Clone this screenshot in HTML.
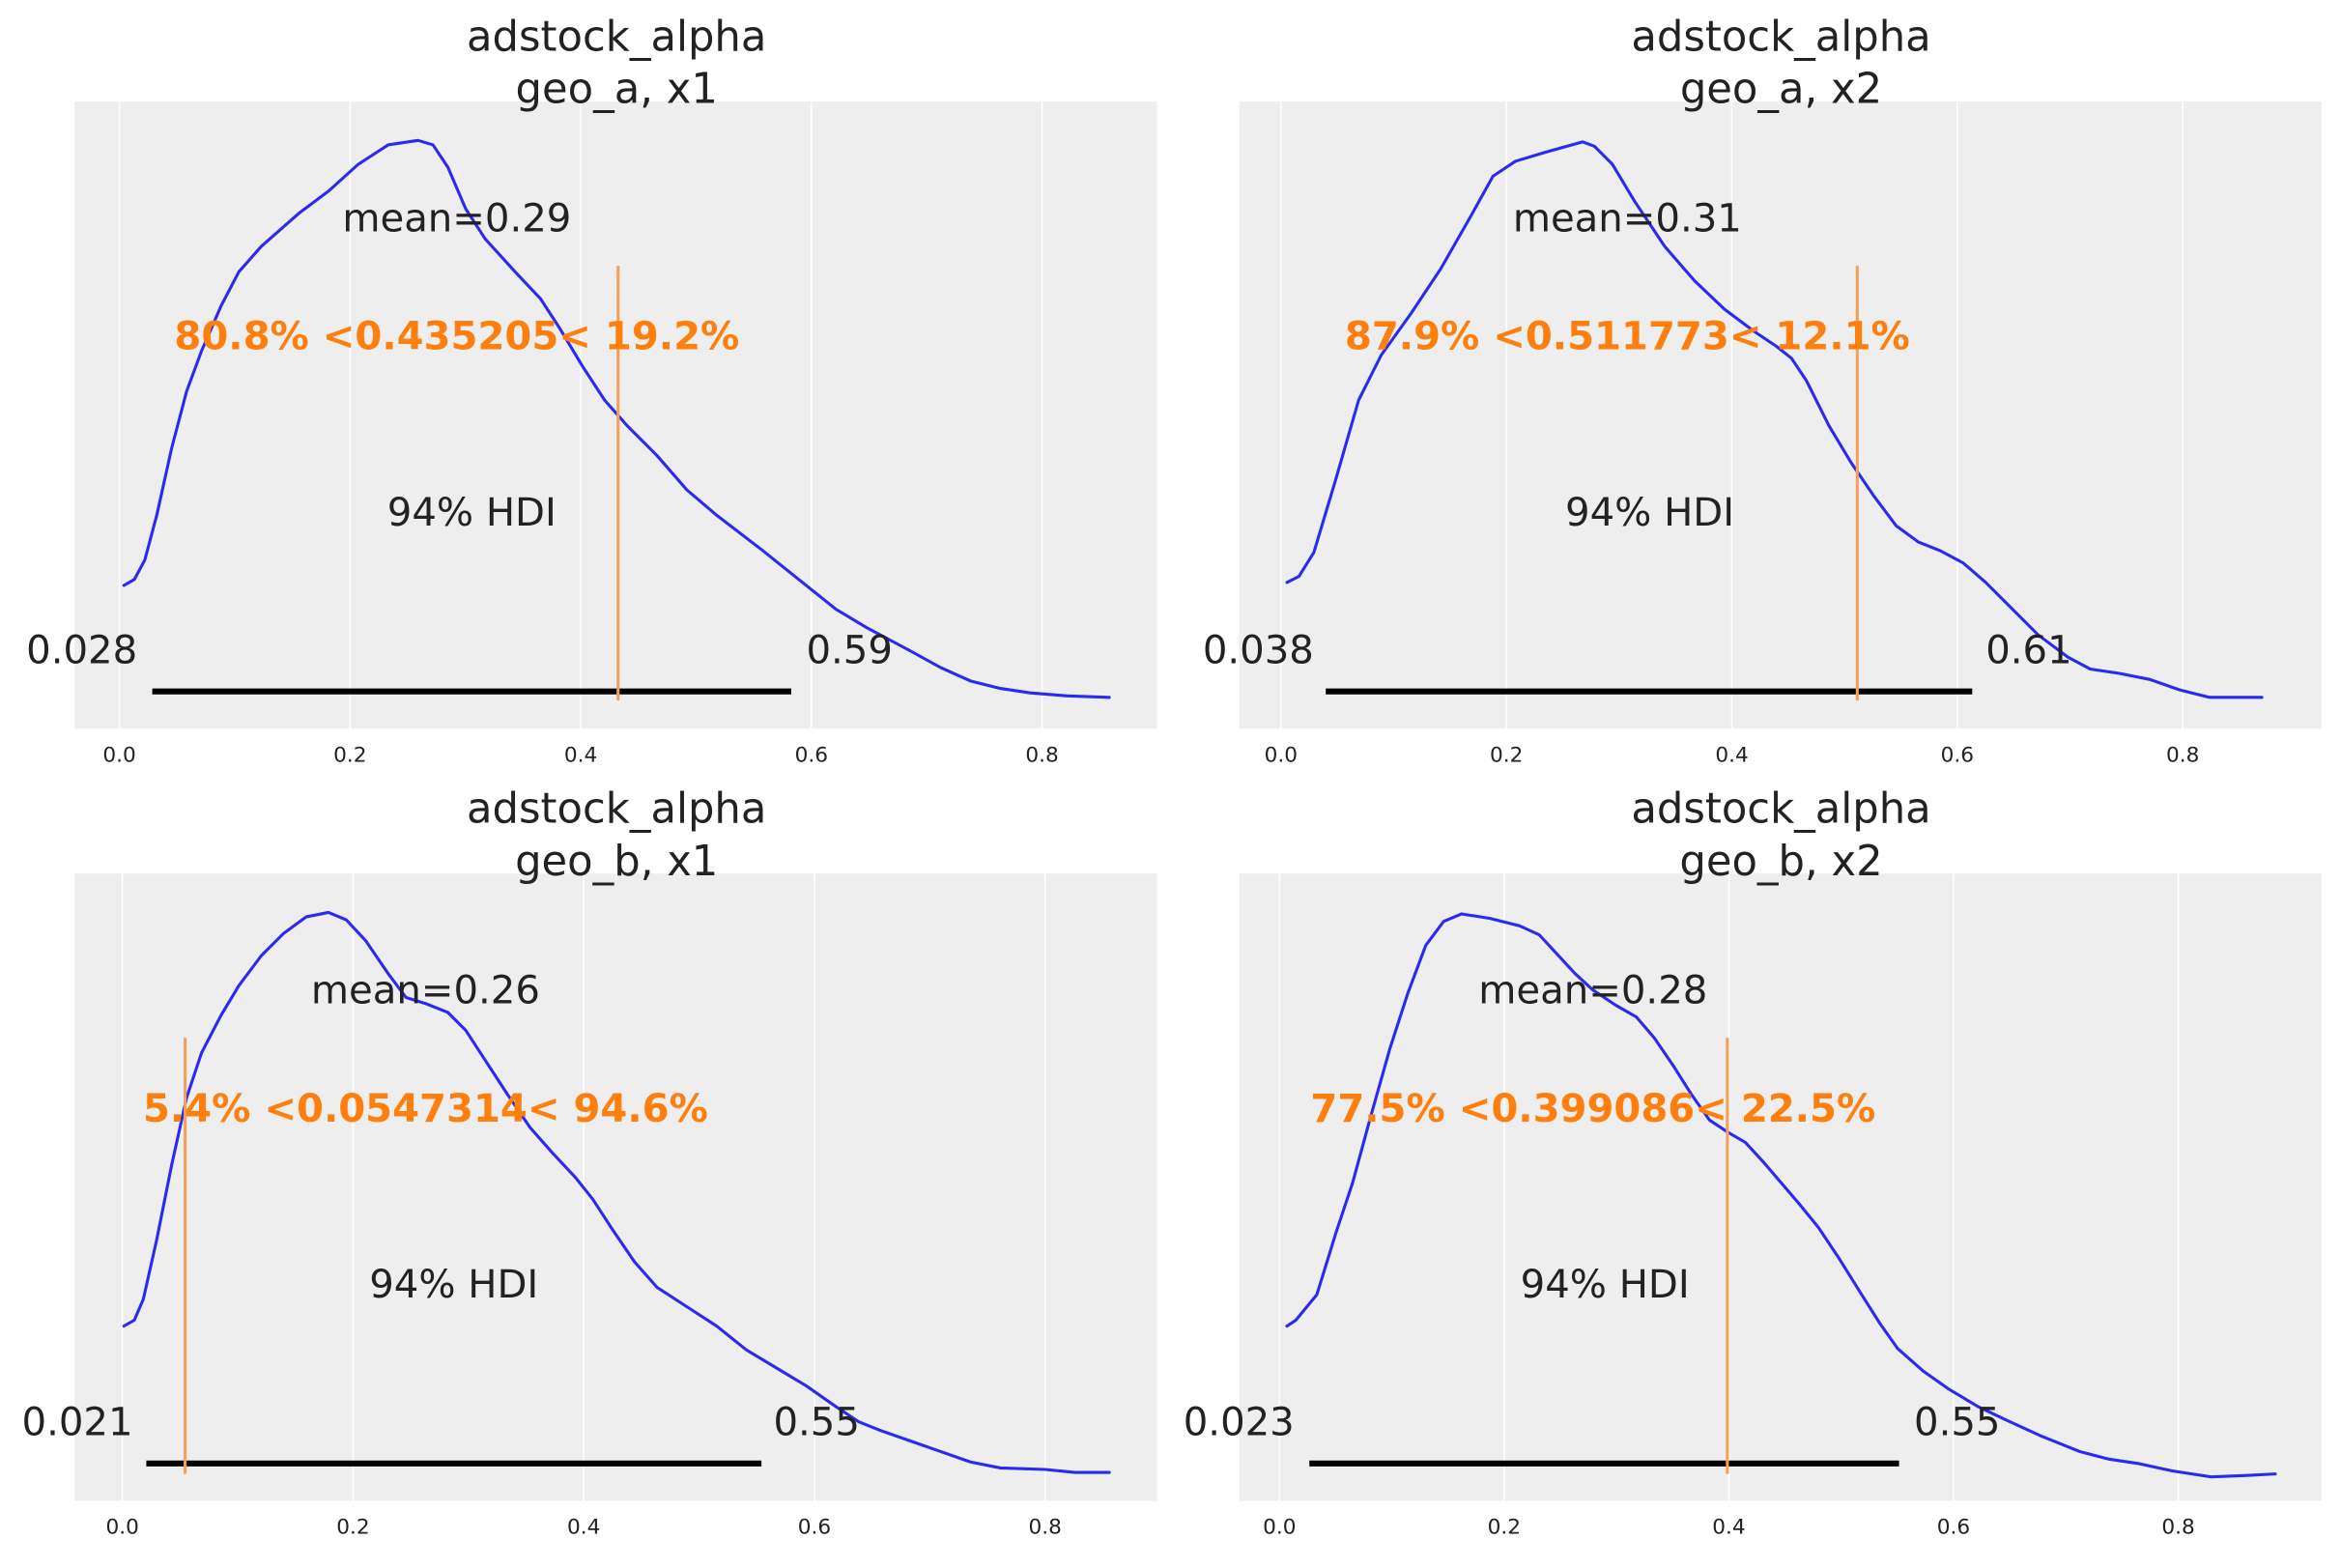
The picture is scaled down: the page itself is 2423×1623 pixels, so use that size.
<!DOCTYPE html>
<html><head><meta charset="utf-8"><style>
html,body{margin:0;padding:0;background:#fff}
svg{display:block}
text{font-family:"DejaVu Sans","Liberation Sans",sans-serif}
</style></head><body>
<svg width="2423" height="1623" viewBox="0 0 1568 1050" preserveAspectRatio="none" xmlns="http://www.w3.org/2000/svg">
<rect width="1568" height="1050" fill="#fff"/>
<rect x="50" y="68" width="725" height="420" fill="#eeeeee"/>
<rect x="830" y="68" width="725" height="420" fill="#eeeeee"/>
<rect x="50" y="585" width="725" height="420" fill="#eeeeee"/>
<rect x="830" y="585" width="725" height="420" fill="#eeeeee"/>
<g stroke="#fff" stroke-width="1">
<line x1="80" y1="68" x2="80" y2="488"/><line x1="234.5" y1="68" x2="234.5" y2="488"/><line x1="389" y1="68" x2="389" y2="488"/><line x1="543.5" y1="68" x2="543.5" y2="488"/><line x1="698" y1="68" x2="698" y2="488"/>
<line x1="858" y1="68" x2="858" y2="488"/><line x1="1009" y1="68" x2="1009" y2="488"/><line x1="1160" y1="68" x2="1160" y2="488"/><line x1="1311" y1="68" x2="1311" y2="488"/><line x1="1462" y1="68" x2="1462" y2="488"/>
<line x1="82" y1="585" x2="82" y2="1005"/><line x1="236.5" y1="585" x2="236.5" y2="1005"/><line x1="391" y1="585" x2="391" y2="1005"/><line x1="545.5" y1="585" x2="545.5" y2="1005"/><line x1="700" y1="585" x2="700" y2="1005"/>
<line x1="857" y1="585" x2="857" y2="1005"/><line x1="1007.5" y1="585" x2="1007.5" y2="1005"/><line x1="1158" y1="585" x2="1158" y2="1005"/><line x1="1308.5" y1="585" x2="1308.5" y2="1005"/><line x1="1459" y1="585" x2="1459" y2="1005"/>
</g>
<g font-size="14" fill="#222" text-anchor="middle">
<text x="80" y="510">0.0</text><text x="234.5" y="510">0.2</text><text x="389" y="510">0.4</text><text x="543.5" y="510">0.6</text><text x="698" y="510">0.8</text>
<text x="858" y="510">0.0</text><text x="1009" y="510">0.2</text><text x="1160" y="510">0.4</text><text x="1311" y="510">0.6</text><text x="1462" y="510">0.8</text>
<text x="82" y="1027">0.0</text><text x="236.5" y="1027">0.2</text><text x="391" y="1027">0.4</text><text x="545.5" y="1027">0.6</text><text x="700" y="1027">0.8</text>
<text x="857" y="1027">0.0</text><text x="1007.5" y="1027">0.2</text><text x="1158" y="1027">0.4</text><text x="1308.5" y="1027">0.6</text><text x="1459" y="1027">0.8</text>
</g>
<g font-size="28" fill="#222" text-anchor="middle">
<text x="413" y="34">adstock_alpha</text><text x="413" y="69">geo_a, x1</text>
<text x="1193" y="34">adstock_alpha</text><text x="1193" y="69">geo_a, x2</text>
<text x="413" y="551">adstock_alpha</text><text x="413" y="586">geo_b, x1</text>
<text x="1193" y="551">adstock_alpha</text><text x="1193" y="586">geo_b, x2</text>
</g>
<g fill="none" stroke="#2a2af0" stroke-width="2" stroke-linejoin="round" stroke-linecap="round">
<polyline points="83,392 90,388 97,375 105,345 115,300 125,262 135,235 148,205 160,182 175,165 200,143 220,128 240,110 260,97 280,94 290,97 300,112 312,140 325,160 345,182 362,200 375,220 390,245 405,268 420,285 440,305 460,328 480,345 510,368 540,392 560,408 580,420 610,436 630,447 650,456 670,461 690,464 715,466 743,467"/>
<polyline points="862,390 870,386 880,370 895,320 910,268 925,238 945,210 965,180 985,145 1000,118 1015,108 1035,102 1060,95 1068,98 1080,110 1095,135 1115,165 1135,188 1155,207 1175,222 1190,232 1200,240 1210,255 1225,285 1240,310 1255,332 1270,352 1285,363 1300,369 1315,377 1330,390 1345,405 1365,425 1385,440 1400,448 1420,451 1440,455 1460,462 1480,467 1500,467 1515,467"/>
<polyline points="83,888 90,884 96,870 105,830 115,780 125,735 135,705 148,680 160,660 175,640 190,625 205,614 220,611 232,616 245,630 260,652 272,668 285,672 300,678 312,690 325,710 340,733 355,755 370,772 385,788 397,803 410,823 425,845 440,862 460,875 480,888 500,904 520,916 540,928 560,942 575,952 590,958 610,965 630,972 650,979 670,983 700,984 720,986 743,986"/>
<polyline points="862,888 868,884 882,867 895,825 906,792 918,748 931,702 943,665 955,633 967,617 979,612 998,615 1018,620 1031,626 1043,639 1055,652 1067,663 1082,673 1096,681 1108,695 1121,714 1133,733 1145,750 1157,758 1169,765 1181,778 1193,792 1205,806 1218,822 1232,843 1247,867 1259,886 1271,903 1288,918 1305,930 1325,942 1344,951 1368,962 1393,972 1412,977 1432,980 1455,985 1481,989 1505,988 1524,987"/>
</g>
<g stroke="#000" stroke-width="4">
<line x1="102" y1="463" x2="530" y2="463"/>
<line x1="888" y1="463" x2="1321" y2="463"/>
<line x1="98" y1="980" x2="510" y2="980"/>
<line x1="877" y1="980" x2="1272" y2="980"/>
</g>
<g stroke="#f5a05a" stroke-width="2">
<line x1="414" y1="178" x2="414" y2="469"/>
<line x1="1244" y1="178" x2="1244" y2="469"/>
<line x1="124" y1="695" x2="124" y2="987"/>
<line x1="1157" y1="695" x2="1157" y2="987"/>
</g>
<g font-size="26" fill="#222">
<text x="306" y="155" text-anchor="middle">mean=0.29</text>
<text x="1090" y="155" text-anchor="middle">mean=0.31</text>
<text x="285" y="672" text-anchor="middle">mean=0.26</text>
<text x="1067" y="672" text-anchor="middle">mean=0.28</text>
<text x="316" y="352" text-anchor="middle">94% HDI</text>
<text x="1105" y="352" text-anchor="middle">94% HDI</text>
<text x="304" y="869" text-anchor="middle">94% HDI</text>
<text x="1075" y="869" text-anchor="middle">94% HDI</text>
<text x="92" y="444" text-anchor="end">0.028</text>
<text x="540" y="444">0.59</text>
<text x="880" y="444" text-anchor="end">0.038</text>
<text x="1330" y="444">0.61</text>
<text x="89" y="961" text-anchor="end">0.021</text>
<text x="518" y="961">0.55</text>
<text x="867" y="961" text-anchor="end">0.023</text>
<text x="1282" y="961">0.55</text>
</g>
<g font-size="26" font-weight="bold" fill="#ff7f0e" text-anchor="middle">
<text x="306" y="234">80.8% &lt;0.435205&lt; 19.2%</text>
<text x="1090" y="234">87.9% &lt;0.511773&lt; 12.1%</text>
<text x="285" y="751">5.4% &lt;0.0547314&lt; 94.6%</text>
<text x="1067" y="751">77.5% &lt;0.399086&lt; 22.5%</text>
</g>
</svg>
</body></html>
